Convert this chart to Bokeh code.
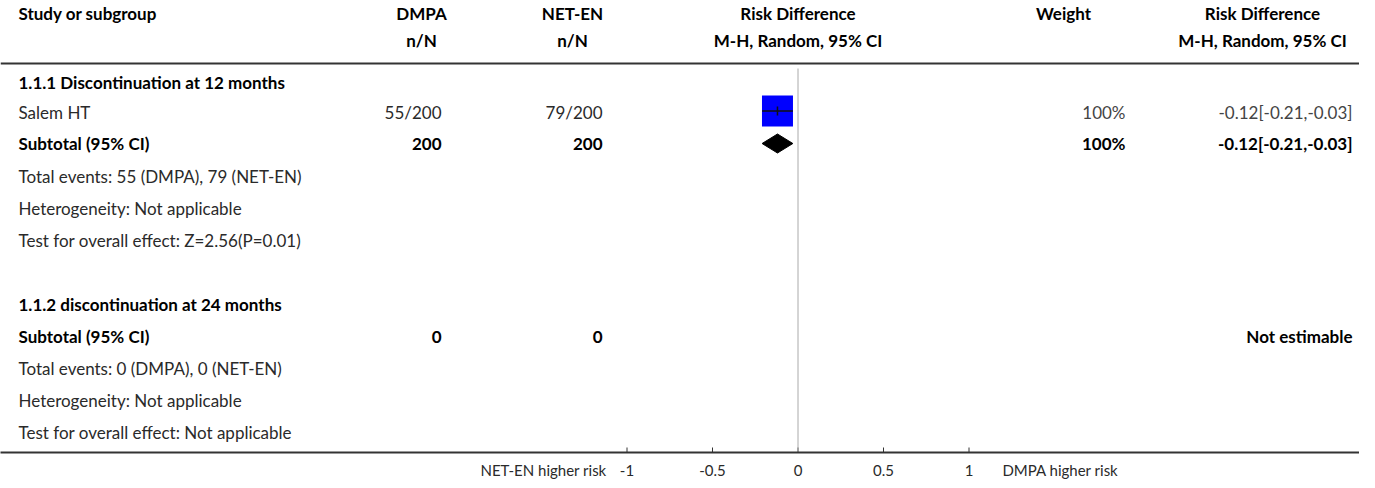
from bokeh.plotting import figure
from bokeh.models import Range1d, FixedTicker, ColumnDataSource
from bokeh.core.properties import value
from bokeh.embed import file_html
from bokeh.resources import INLINE

# ---------------- data ----------------
study_names = ["Salem HT"]
dmpa_events = [55]
dmpa_totals = [200]
neten_events = [79]
neten_totals = [200]
study_rd = [-0.12]
study_lo = [-0.21]
study_hi = [-0.03]
study_weights = ["100%"]

subtotal_rd = [-0.12]
subtotal_lo = [-0.21]
subtotal_hi = [-0.03]
subtotal_dmpa = [200, 0]
subtotal_neten = [200, 0]
subtotal_weight = ["100%", ""]
subtotal_effect = ["-0.12[-0.21,-0.03]", "Not estimable"]

group_titles = ["1.1.1 Discontinuation at 12 months", "1.1.2 discontinuation at 24 months"]
total_events = ["Total events: 55 (DMPA), 79 (NET-EN)", "Total events: 0 (DMPA), 0 (NET-EN)"]
heterogeneity = ["Heterogeneity: Not applicable", "Heterogeneity: Not applicable"]
overall_test = ["Test for overall effect: Z=2.56(P=0.01)", "Test for overall effect: Not applicable"]

tick_values = [-1, -0.5, 0, 0.5, 1]
tick_labels = ["-1", "-0.5", "0", "0.5", "1"]
favours_left = "NET-EN higher risk"
favours_right = "DMPA higher risk"

# ---------------- layout ----------------
FONT = "Lato"
FS = "17px"
DARK = "#2a2a2a"
W = 1359
TOP, AXIS_Y = 4, 456           # data y of frame top / bottom (axis line)
ZERO_X = 797.5
UNIT = 171.0

ROW = dict(h1=17, h2=44, g1=86, s1=116, sub1=147, te1=180, het1=212, test1=244,
           g2=308, sub2=340, te2=372, het2=404, test2=436)

X_LEFT = 18
X_DMPA_R = 441
X_NET_R = 602
X_DMPA_C = 421
X_NET_C = 572
X_RD_C = ZERO_X
X_W_C = 1063
X_W_R = 1125
X_RD2_C = 1262
X_RD2_R = 1352
FAV_L_C = 543     # centre of the left favours label (px)
FAV_R_C = 1060    # centre of the right favours label (px)


def to_rd(px):
    return (px - ZERO_X) / UNIT


p = figure(frame_width=W, frame_height=AXIS_Y - TOP,
           x_range=Range1d(to_rd(0), to_rd(W)), y_range=Range1d(AXIS_Y, TOP),
           y_axis_location=None, toolbar_location=None, output_backend="svg",
           min_border=0, outline_line_color=None)
p.extra_x_ranges = {"px": Range1d(0, W)}
p.grid.visible = False

fav_pos = [round(to_rd(FAV_L_C), 4), round(to_rd(FAV_R_C), 4)]
ax = p.xaxis[0]
ax.ticker = FixedTicker(ticks=tick_values + fav_pos)
overrides = {v: s for v, s in zip(tick_values, tick_labels)}
overrides[fav_pos[0]] = favours_left
overrides[fav_pos[1]] = favours_right
ax.major_label_overrides = overrides
ax.major_tick_line_color = None
ax.minor_tick_line_color = None
ax.axis_line_width = 2
ax.axis_line_color = "#333333"
ax.major_label_standoff = 2
ax.major_label_text_font = FONT
ax.major_label_text_font_size = "15px"
ax.major_label_text_color = "#2a2a2a"

# tick marks pointing into the plot, at the numeric ticks only
p.segment(x0=tick_values, x1=tick_values, y0=[AXIS_Y] * len(tick_values),
          y1=[AXIS_Y - 5] * len(tick_values), line_color="#333333", line_width=1)


def txt(xs, ys, texts, align, bold=False, color=DARK):
    src = ColumnDataSource(dict(x=xs, y=ys, t=texts))
    p.text(x="x", y="y", text="t", source=src, x_range_name="px",
           text_align=align, text_baseline="middle",
           text_font=value(FONT), text_font_size=FS,
           text_font_style="bold" if bold else "normal", text_color=color)


# header
txt([X_LEFT], [ROW["h1"]], ["Study or subgroup"], "left", True, "black")
txt([X_DMPA_C, X_NET_C, X_RD_C, X_W_C, X_RD2_C], [ROW["h1"]] * 5,
    ["DMPA", "NET-EN", "Risk Difference", "Weight", "Risk Difference"], "center", True, "black")
txt([X_DMPA_C, X_NET_C, X_RD_C, X_RD2_C], [ROW["h2"]] * 4,
    ["n/N", "n/N", "M-H, Random, 95% CI", "M-H, Random, 95% CI"], "center", True, "black")
p.line(x=[0, W], y=[67, 67], x_range_name="px", line_color="#333333", line_width=2)

# zero line
p.segment(x0=[0], x1=[0], y0=[72], y1=[AXIS_Y], line_color="#aaaaaa", line_width=1)

# group titles and subtotal labels
txt([X_LEFT] * 2, [ROW["g1"], ROW["g2"]], group_titles, "left", True, "black")
txt([X_LEFT] * 2, [ROW["sub1"], ROW["sub2"]], ["Subtotal (95% CI)"] * 2, "left", True, "black")
txt([X_LEFT] * 2, [ROW["te1"], ROW["te2"]], total_events, "left")
txt([X_LEFT] * 2, [ROW["het1"], ROW["het2"]], heterogeneity, "left")
txt([X_LEFT] * 2, [ROW["test1"], ROW["test2"]], overall_test, "left")

# study row
txt([X_LEFT], [ROW["s1"]], study_names, "left")
txt([X_DMPA_R], [ROW["s1"]], [f"{a}/{b}" for a, b in zip(dmpa_events, dmpa_totals)], "right")
txt([X_NET_R], [ROW["s1"]], [f"{a}/{b}" for a, b in zip(neten_events, neten_totals)], "right")
txt([X_W_R], [ROW["s1"]], study_weights, "right", color="#444444")
txt([X_RD2_R], [ROW["s1"]],
    [f"{r:.2f}[{l:.2f},{h:.2f}]" for r, l, h in zip(study_rd, study_lo, study_hi)], "right", color="#444444")

# subtotal rows
sub_y = [ROW["sub1"], ROW["sub2"]]
txt([X_DMPA_R] * 2, sub_y, [str(v) for v in subtotal_dmpa], "right", True, "black")
txt([X_NET_R] * 2, sub_y, [str(v) for v in subtotal_neten], "right", True, "black")
txt([X_W_R] * 2, sub_y, subtotal_weight, "right", True, "black")
txt([X_RD2_R] * 2, sub_y, subtotal_effect, "right", True, "black")

# study marker
my = ROW["s1"] - 1.5
p.scatter(x=study_rd, y=[my], marker="square", size=31,
          fill_color="#0000ff", line_color=None)
p.segment(x0=study_lo, x1=study_hi, y0=[my], y1=[my],
          line_color="#111111", line_width=1.5)
p.scatter(x=study_rd, y=[my], marker="dash", angle=1.5708, size=9,
          line_color="#111111", line_width=1.5)

# subtotal diamond
dy = 9.5
p.patch(x=[subtotal_lo[0], subtotal_rd[0], subtotal_hi[0], subtotal_rd[0]],
        y=[ROW["sub1"], ROW["sub1"] - dy, ROW["sub1"], ROW["sub1"] + dy],
        fill_color="black", line_color="black")

open("out.html", "w").write(file_html(p, INLINE))
